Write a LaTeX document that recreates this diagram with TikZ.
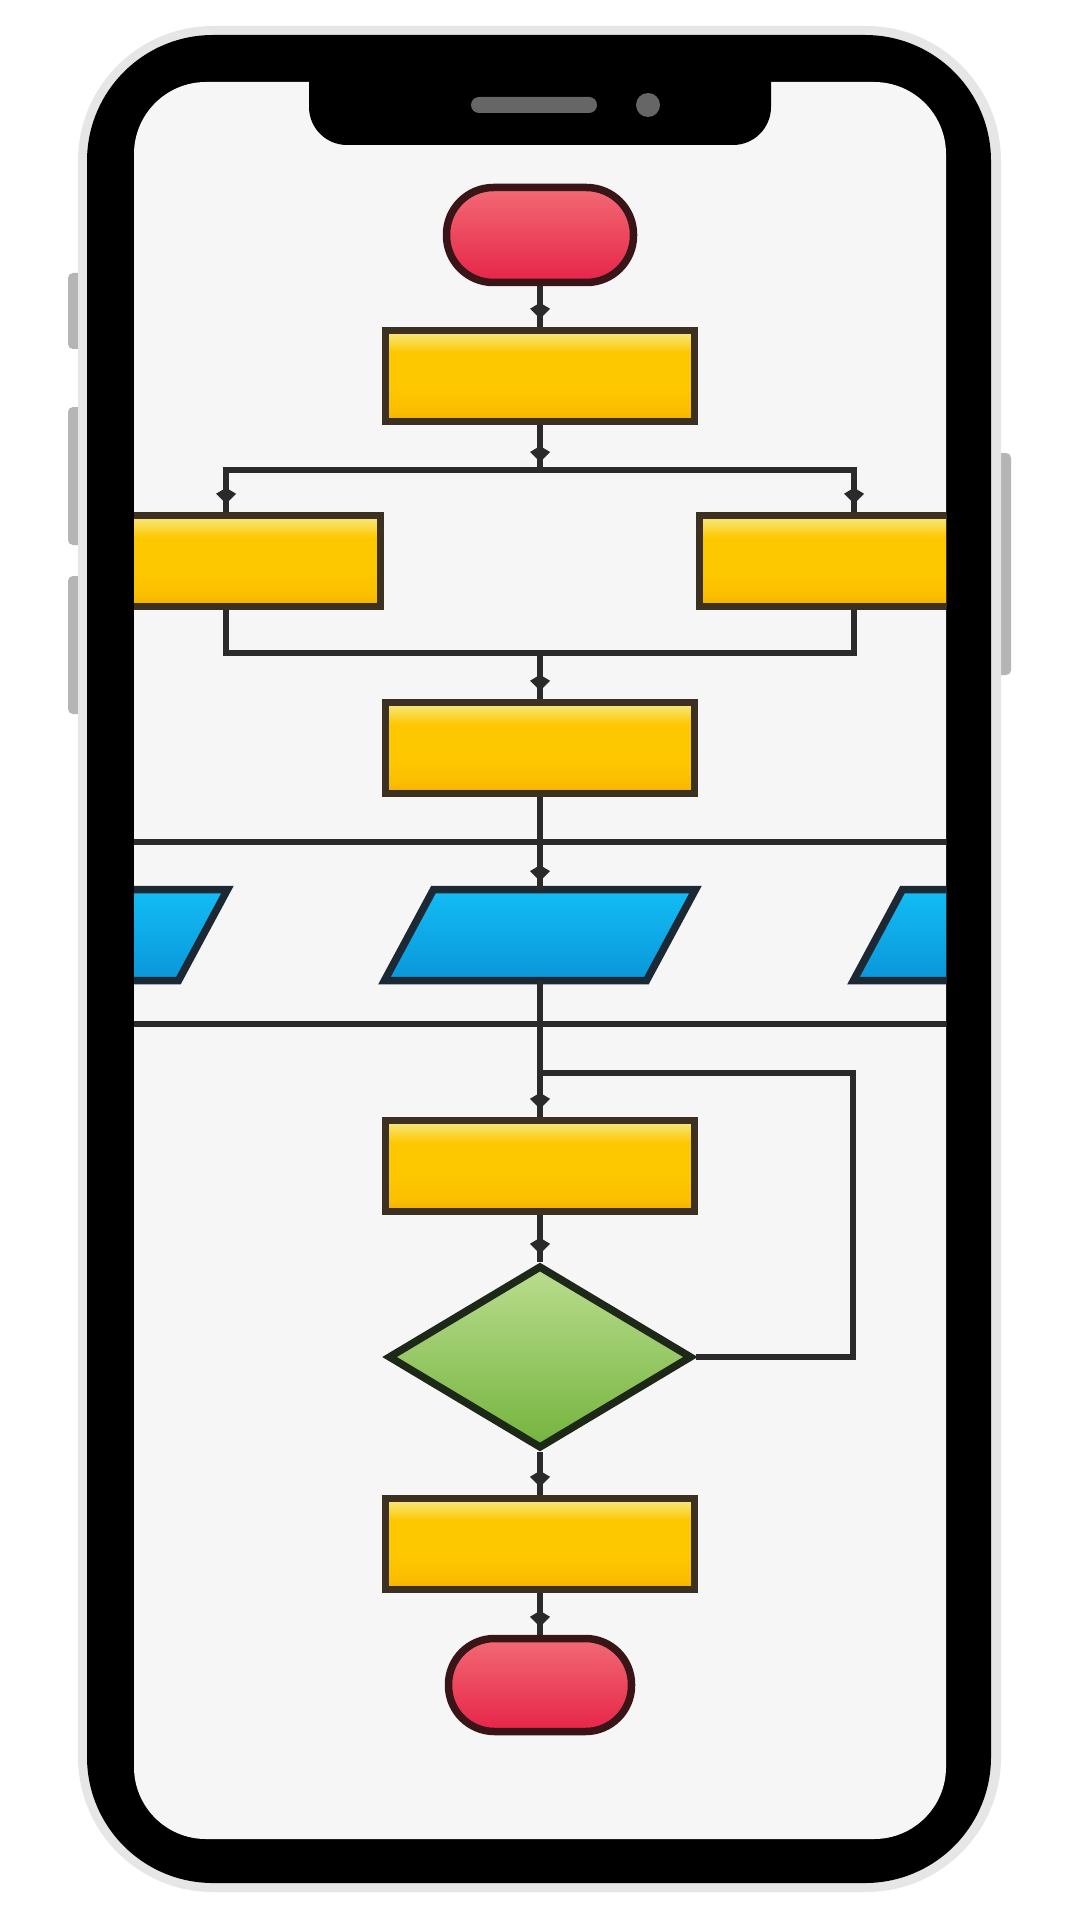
\documentclass[tikz,border=0pt]{standalone}
\usetikzlibrary{arrows.meta,shapes.geometric,decorations.markings}
\definecolor{bordergray}{HTML}{E6E6E6}
\definecolor{btngray}{HTML}{B5B5B5}
\definecolor{screenbg}{HTML}{F6F6F6}
\definecolor{speaker}{HTML}{666666}
\definecolor{redtop}{HTML}{F26A74}
\definecolor{redbot}{HTML}{E62448}
\definecolor{redline}{HTML}{3A1518}
\definecolor{yeltop}{HTML}{F8E88A}
\definecolor{yeltopb}{HTML}{F9DC50}
\definecolor{yelmid}{HTML}{FEC800}
\definecolor{yelbotb}{HTML}{FBBE00}
\definecolor{yelbot}{HTML}{F2AE00}
\definecolor{yelline}{HTML}{3C3020}
\definecolor{bluetop}{HTML}{12BDF4}
\definecolor{bluebot}{HTML}{0A96DA}
\definecolor{blueline}{HTML}{1C2833}
\definecolor{greentop}{HTML}{BADD8E}
\definecolor{greenbot}{HTML}{74B43E}
\definecolor{greenline}{HTML}{1E2818}
\definecolor{conn}{HTML}{2A2A2A}
\pgfdeclareverticalshading{yelshade}{100bp}{color(0bp)=(yelbot); color(25bp)=(yelbot); color(31bp)=(yelbotb); color(45bp)=(yelmid); color(63bp)=(yelmid); color(70bp)=(yeltopb); color(75bp)=(yeltop); color(100bp)=(yeltop)}
\newcommand\drawio[1]{\path[draw=blueline, line width=3.75pt, line join=miter, top color=bluetop, bottom color=bluebot]
  (#1.center) ++(-155.5,45.5) -- ++(262,0) -- ++(49,-91) -- ++(-262,0) -- cycle;}
\begin{document}
\begin{tikzpicture}[x=0.5pt,y=-0.5pt,
  term/.style={rectangle, rounded corners=23.5pt, minimum width=93.5pt, minimum height=47.5pt,
    inner sep=0pt, draw=redline, line width=3.75pt, top color=redtop, bottom color=redbot},
  procbox/.style={rectangle, minimum width=154.5pt, minimum height=45.5pt, inner sep=0pt,
    draw=yelline, line width=3.75pt, shading=yelshade},
  ioslot/.style={rectangle, minimum width=155pt, minimum height=45.5pt, inner sep=0pt},
  decisionbox/.style={diamond, minimum width=152pt, minimum height=91.5pt, inner sep=0pt,
    draw=greenline, line width=3.75pt, top color=greentop, bottom color=greenbot},
  connector/.style={draw=conn, line width=3pt},
  flowarr/.style={connector, postaction={decorate},
    decoration={markings, mark=at position -4pt with {\arrow[conn, line width=1pt]{Kite[length=8pt,width=10pt,inset=3pt]}}}}
]
\useasboundingbox (0,0) rectangle (1080,1920);
\fill[white] (0,0) rectangle (1080,1920);
% side buttons
\fill[btngray, rounded corners=2.5pt] (68,273) rectangle (86,349);
\fill[btngray, rounded corners=2.5pt] (68,407) rectangle (86,545);
\fill[btngray, rounded corners=2.5pt] (68,576) rectangle (86,714);
\fill[btngray, rounded corners=2.5pt] (993,453) rectangle (1011,675);
% phone body
\fill[bordergray, rounded corners=67.5pt] (78,26) rectangle (1001,1892);
\fill[black, rounded corners=63pt] (87,35) rectangle (991,1883);
\fill[screenbg, rounded corners=36pt] (134,82) rectangle (946,1839);
\begin{scope}
\clip[rounded corners=36pt] (134,82) rectangle (946,1839);
% nodes
\node[term] (start) at (540,235) {};
\node[procbox] (box1) at (540,376) {};
\node[procbox] (boxL) at (226,561) {};
\node[procbox] (boxR) at (854,561) {};
\node[procbox] (box3) at (540,748) {};
\node[ioslot] (ioL) at (72,935) {};
\node[ioslot] (ioC) at (540,935) {};
\node[ioslot] (ioR) at (1009,935) {};
\drawio{ioL}
\drawio{ioC}
\drawio{ioR}
\node[procbox] (box4) at (540,1166) {};
\node[decisionbox] (dec) at (540,1357) {};
\node[procbox] (box5) at (540,1544) {};
\node[term, minimum width=91.5pt, minimum height=46.5pt, rounded corners=23pt] (stop) at (540,1685) {};
% helper coordinates
\coordinate (split) at (540,470);
\coordinate (merge) at (540,653);
\coordinate (barAw) at (120,842);
\coordinate (barAe) at (960,842);
\coordinate (barBw) at (120,1024);
\coordinate (barBe) at (960,1024);
\coordinate (loopj) at (540,1073);
\coordinate (loopc) at (853,1357);
% connectors
\draw[connector] (barAw) -- (barAe);
\draw[connector] (barBw) -- (barBe);
\draw[flowarr] (start.south) -- (box1.north);
\draw[flowarr] (box1.south) -- (split);
\draw[flowarr] (split) -| (boxL.north);
\draw[flowarr] (split) -| (boxR.north);
\draw[connector] (boxL.south) |- (merge) -| (boxR.south);
\draw[flowarr] (merge) -- (box3.north);
\draw[flowarr] (box3.south) -- (ioC.north);
\draw[flowarr] (ioC.south) -- (box4.north);
\draw[flowarr] (box4.south) -- (dec.north);
\draw[connector] (dec.east) -- (loopc) |- (loopj);
\draw[flowarr] (dec.south) -- (box5.north);
\draw[flowarr] (box5.south) -- (stop.north);
\end{scope}
% notch
\fill[black, rounded corners=19pt] (309,40) -- (309,145) -- (771,145) -- (771,40) -- cycle;
\fill[speaker, rounded corners=4pt] (471,97) rectangle (597,113);
\fill[speaker] (648,105) circle[radius=6pt];
\end{tikzpicture}
\end{document}
